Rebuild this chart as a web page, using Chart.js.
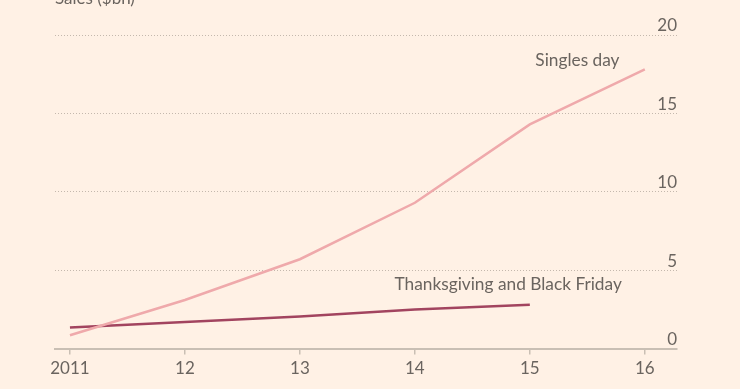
<!DOCTYPE html>
<html>
<head>
<meta charset="utf-8">
<script src="https://cdn.jsdelivr.net/npm/chart.js@4"></script>
<style>
  html, body { margin: 0; padding: 0; background: #fff1e5; }
  #wrap { width: 740px; height: 389px; position: relative; }
</style>
</head>
<body>
<div id="wrap"><canvas id="salesChart"></canvas></div>
<script>
const years = [2011, 2012, 2013, 2014, 2015, 2016];
const yearLabels = ['2011', '12', '13', '14', '15', '16'];
const singlesDay = [0.85, 3.1, 5.7, 9.3, 14.3, 17.8];
const thanksgiving = [1.35, 1.7, 2.05, 2.5, 2.8];
const yTicks = [0, 5, 10, 15, 20];

const textColor = '#6a645f';
const fontFamily = 'Lato, "Open Sans", sans-serif';

// title sits above the chart area, mostly cut off like the original
const titlePlugin = {
    id: 'topTitle',
    afterDraw(chart) {
        const ctx = chart.ctx;
        ctx.save();
        ctx.font = '17px ' + fontFamily;
        ctx.fillStyle = textColor;
        ctx.textAlign = 'left';
        ctx.textBaseline = 'alphabetic';
        ctx.fillText('Sales ($bn)', chart.chartArea.left, 4);
        ctx.restore();
    }
};

// series labels placed next to their lines
const lineLabels = {
    id: 'lineLabels',
    afterDatasetsDraw(chart) {
        const ctx = chart.ctx;
        const x = chart.scales.x, y = chart.scales.y;
        ctx.save();
        ctx.font = '17.3px ' + fontFamily;
        ctx.fillStyle = textColor;
        ctx.textAlign = 'right';
        ctx.textBaseline = 'middle';
        ctx.fillText('Singles day', x.getPixelForValue(2015.78), y.getPixelForValue(18.4));
        ctx.fillText('Thanksgiving and Black Friday', x.getPixelForValue(2015.8), y.getPixelForValue(4.1));
        ctx.restore();
    }
};

const ctx = document.getElementById('salesChart').getContext('2d');
const chart = new Chart(ctx, {
    type: 'line',
    data: {
        datasets: [{
            label: 'Singles day',
            data: years.map((yr, i) => ({ x: yr, y: singlesDay[i] })),
            borderColor: '#efa9ab',
            borderWidth: 2.5,
            pointRadius: 0,
            tension: 0
        }, {
            label: 'Thanksgiving and Black Friday',
            data: thanksgiving.map((v, i) => ({ x: years[i], y: v })),
            borderColor: '#a2445f',
            borderWidth: 2.5,
            pointRadius: 0,
            tension: 0
        }]
    },
    options: {
        responsive: true,
        maintainAspectRatio: false,
        animation: false,
        layout: { padding: { top: 35, left: 55, right: 63, bottom: 6 } },
        plugins: {
            legend: { display: false },
            tooltip: { enabled: false }
        },
        scales: {
            x: {
                type: 'linear',
                min: 2010.87,
                max: 2016.28,
                afterBuildTicks: axis => { axis.ticks = years.map(v => ({ value: v })); },
                ticks: {
                    color: textColor,
                    font: { family: fontFamily, size: 17 },
                    padding: 4,
                    maxRotation: 0,
                    callback: value => yearLabels[years.indexOf(value)]
                },
                grid: {
                    drawOnChartArea: false,
                    drawTicks: true,
                    tickLength: 6,
                    color: '#c9bfb4',
                    lineWidth: 1.5
                },
                border: { display: true, color: '#c9bfb4', width: 2 }
            },
            y: {
                position: 'right',
                min: 0,
                max: 20,
                afterBuildTicks: axis => { axis.ticks = yTicks.map(v => ({ value: v })); },
                ticks: {
                    mirror: true,
                    padding: 0,
                    labelOffset: -9,
                    color: textColor,
                    font: { family: fontFamily, size: 17 }
                },
                grid: {
                    drawTicks: false,
                    color: ctx => ctx.tick && ctx.tick.value === 0 ? 'rgba(0,0,0,0)' : '#c4b8ad',
                    lineWidth: 1
                },
                border: { display: false, dash: [1, 2] }
            }
        }
    },
    plugins: [titlePlugin, lineLabels]
});
</script>
</body>
</html>
